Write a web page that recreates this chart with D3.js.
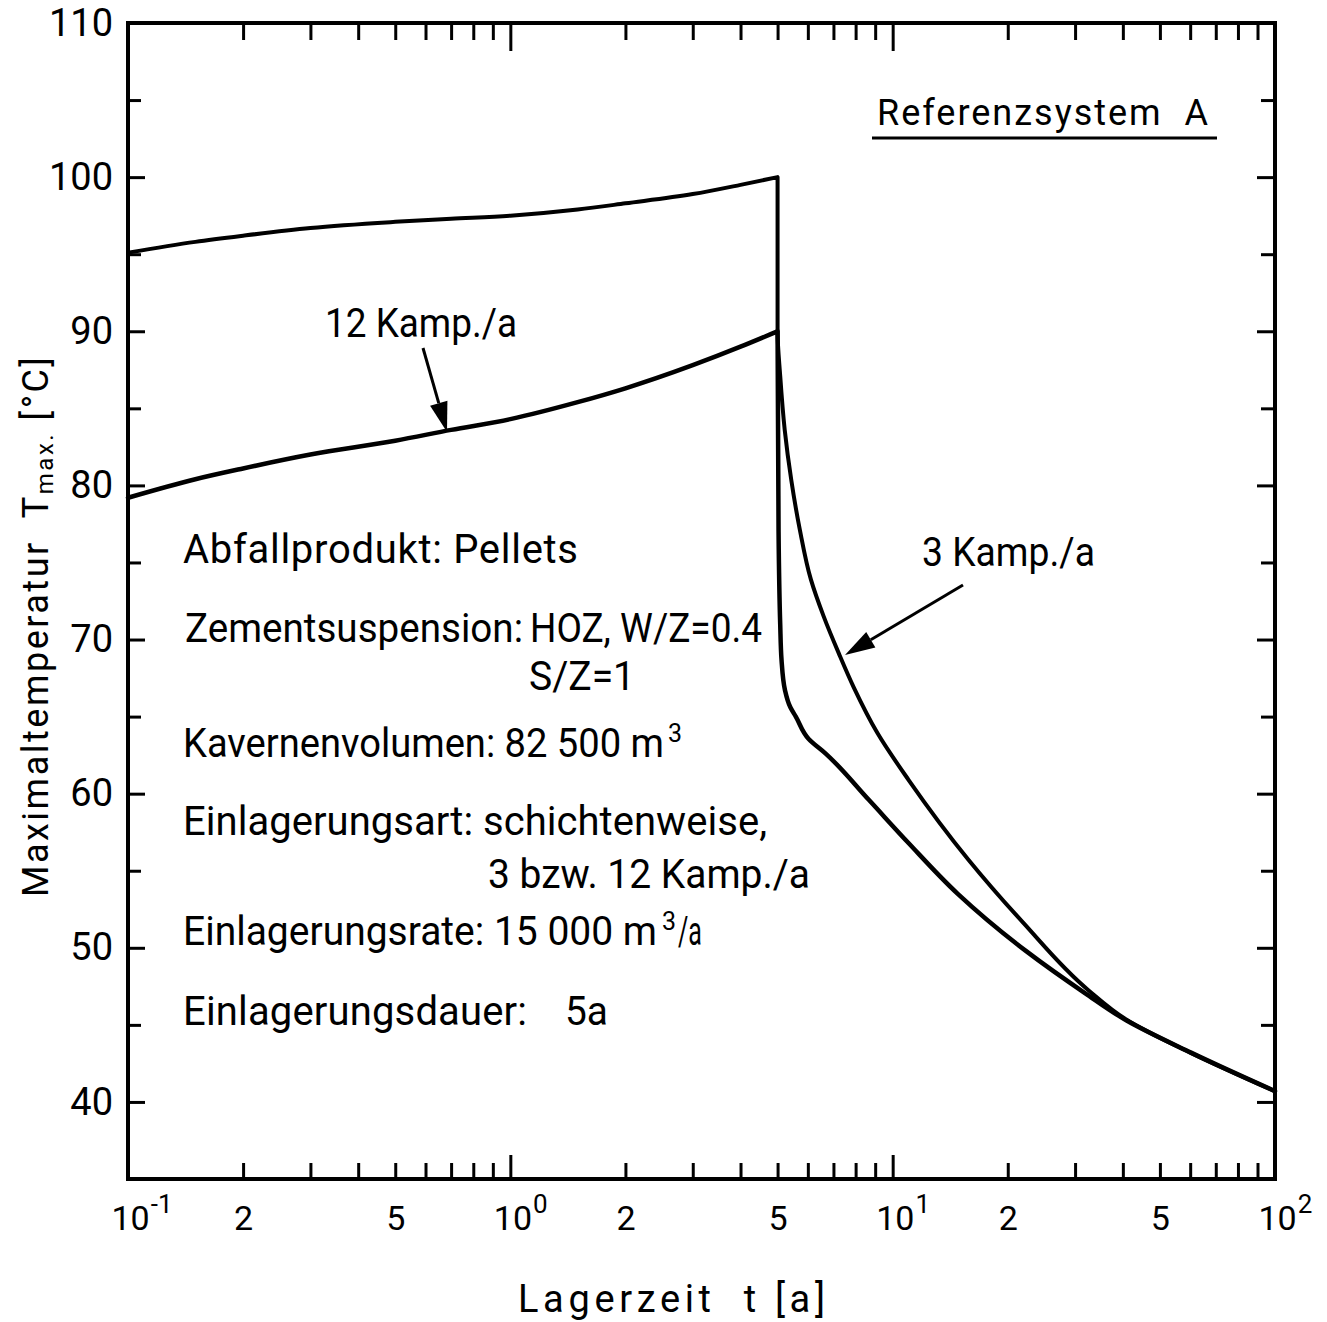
<!DOCTYPE html>
<html>
<head>
<meta charset="utf-8">
<script src="https://cdn.jsdelivr.net/npm/d3@7"></script>
<style>
    body { margin: 0; background: #fff; }
    text { font-family: Roboto, "Open Sans", sans-serif; fill: #000; white-space: pre; }
</style>
</head>
<body>
<svg id="chart"></svg>
<script>
/*--------------------------------------------------------------------------------
----- DATA
--------------------------------------------------------------------------------*/

// Curve for 3 campaigns per year: storage time [a] and max. temperature [°C]
const kamp3_time = [0.1, 0.15, 0.2, 0.3, 0.5, 0.7, 1, 1.5, 2, 3, 4, 5,
    5, 5.08, 5.22, 5.43, 5.72, 6.11, 6.6, 7.23, 7.91, 9.14, 11.0, 15.8, 22, 32.5, 40.8, 60, 100];
const kamp3_temp = [95.1, 95.8, 96.2, 96.7, 97.1, 97.3, 97.5, 97.9, 98.3, 98.9, 99.5, 100,
    90, 87.1, 83.6, 80.35, 77.1, 73.9, 71.5, 69.1, 66.9, 63.9, 60.9, 55.7, 51.6, 47.25, 45.35, 43.2, 40.7];

// Curve for 12 campaigns per year
const kamp12_time = [0.1, 0.15, 0.2, 0.3, 0.5, 0.7, 1, 1.5, 2, 3, 4, 5,
    5.03, 5.08, 5.12, 5.23, 5.4, 5.58, 6.03, 6.68, 8.66, 11, 14.8, 22.3, 31.9, 40.8, 60.3, 100];
const kamp12_temp = [79.2, 80.4, 81.1, 82.0, 82.9, 83.6, 84.3, 85.4, 86.3, 87.8, 89.0, 90.0,
    77, 71, 68.7, 66.7, 65.6, 65.0, 63.55, 62.6, 59.6, 56.8, 53.5, 49.8, 47.05, 45.3, 43.2, 40.7];

// Axis ticks
const y_major_ticks = [40, 50, 60, 70, 80, 90, 100, 110];
const y_minor_ticks = [45, 55, 65, 75, 85, 95, 105];
const x_decade_ticks = [0.1, 1, 10, 100];
const x_decade_exponents = ["-1", "0", "1", "2"];
const x_minor_ticks = [0.2, 0.3, 0.4, 0.5, 0.6, 0.7, 0.8, 0.9,
    2, 3, 4, 5, 6, 7, 8, 9, 20, 30, 40, 50, 60, 70, 80, 90];
const x_minor_labelled = [0.2, 0.5, 2, 5, 20, 50];

// Texts
const x_title = "Lagerzeit  t [a]";
const y_title = ["Maximaltemperatur  T", "max.", " [°C]"];
const system_label = "Referenzsystem  A";
const curve_labels = ["12 Kamp./a", "3 Kamp./a"];
const info_lines = [
    "Abfallprodukt: Pellets",
    "Zementsuspension:", "HOZ, W/Z=0.4",
    "S/Z=1",
    "Kavernenvolumen: 82 500 m", "3",
    "Einlagerungsart: schichtenweise,",
    "3 bzw. 12 Kamp./a",
    "Einlagerungsrate: 15 000 m", "3", "/a",
    "Einlagerungsdauer:", "5a"
];

/*--------------------------------------------------------------------------------
----- CHART
--------------------------------------------------------------------------------*/

const width = 1327, height = 1322;
const margin = { top: 23, right: 52, bottom: 143, left: 128 };

const svg = d3.select('#chart')
    .attr('width', width)
    .attr('height', height);

const x = d3.scaleLog()
    .domain([0.1, 100])
    .range([margin.left, width - margin.right]);

const y = d3.scaleLinear()
    .domain([35, 110])
    .range([height - margin.bottom, margin.top]);

const x0 = x.range()[0], x1 = x.range()[1];
const y0 = y.range()[0], y1 = y.range()[1];

// Helper to style an axis group: no domain path, thick black ticks
function style_axis(g, font_size) {
    g.select('.domain').remove();
    g.selectAll('.tick line').attr('stroke', '#000').attr('stroke-width', 3);
    g.selectAll('.tick text')
        .style('font-family', 'Roboto, sans-serif')
        .style('font-size', font_size + 'px')
        .attr('fill', '#000');
}

// Left axis: major ticks with labels, minor ticks without
svg.append('g')
    .attr('transform', 'translate(' + x0 + ',0)')
    .call(d3.axisLeft(y).tickValues(y_major_ticks).tickSize(-17).tickPadding(15))
    .call(g => style_axis(g, 38));
svg.append('g')
    .attr('transform', 'translate(' + x0 + ',0)')
    .call(d3.axisLeft(y).tickValues(y_minor_ticks).tickSize(-13).tickFormat(''))
    .call(g => style_axis(g, 38));

// Right axis: inward ticks only
svg.append('g')
    .attr('transform', 'translate(' + x1 + ',0)')
    .call(d3.axisRight(y).tickValues(y_major_ticks).tickSize(-18).tickFormat(''))
    .call(g => style_axis(g, 38));
svg.append('g')
    .attr('transform', 'translate(' + x1 + ',0)')
    .call(d3.axisRight(y).tickValues(y_minor_ticks).tickSize(-14).tickFormat(''))
    .call(g => style_axis(g, 38));

// Bottom axis: decade ticks (long) and minor ticks (short, some labelled)
const bottom_major = svg.append('g')
    .attr('transform', 'translate(0,' + y0 + ')')
    .call(d3.axisBottom(x).tickValues(x_decade_ticks).tickSize(-24).tickFormat(''))
    .call(g => style_axis(g, 34));

bottom_major.selectAll('.tick').each(function (d, i) {
    const label = d3.select(this).append('text')
        .attr('x', -17)
        .attr('y', 51)
        .attr('text-anchor', 'start')
        .style('font-size', '34px');
    label.append('tspan').text('10');
    label.append('tspan')
        .attr('dx', 1)
        .attr('dy', -17)
        .style('font-size', '26px')
        .text(x_decade_exponents[i]);
});

svg.append('g')
    .attr('transform', 'translate(0,' + y0 + ')')
    .call(d3.axisBottom(x).tickValues(x_minor_ticks).tickSize(-16).tickPadding(27)
        .tickFormat(d => x_minor_labelled.includes(d) ? String(Math.round(d / Math.pow(10, Math.floor(Math.log10(d) + 1e-9)))) : ''))
    .call(g => style_axis(g, 34));

// Top axis: inward ticks only
svg.append('g')
    .attr('transform', 'translate(0,' + y1 + ')')
    .call(d3.axisTop(x).tickValues(x_decade_ticks).tickSize(-28).tickFormat(''))
    .call(g => style_axis(g, 34));
svg.append('g')
    .attr('transform', 'translate(0,' + y1 + ')')
    .call(d3.axisTop(x).tickValues(x_minor_ticks).tickSize(-17).tickFormat(''))
    .call(g => style_axis(g, 34));

// Frame
svg.append('rect')
    .attr('x', x0)
    .attr('y', y1)
    .attr('width', x1 - x0)
    .attr('height', y0 - y1)
    .attr('fill', 'none')
    .attr('stroke', '#000')
    .attr('stroke-width', 4);

// Curves: the rise up to the end of emplacement is monotone in t, the decay
// afterwards is monotone in T, so each part gets its own monotone curve
const rise_line = d3.line()
    .x(d => x(d[0]))
    .y(d => y(d[1]))
    .curve(d3.curveMonotoneX);

const decay_line = d3.line()
    .x(d => x(d[0]))
    .y(d => y(d[1]))
    .curve(d3.curveMonotoneY);

function draw_curve(times, temps, stroke_width) {
    const points = times.map((t, i) => [t, temps[i]]);
    const peak = d3.maxIndex(temps);
    const path_d = rise_line(points.slice(0, peak + 1)) + decay_line(points.slice(peak));
    svg.append('path')
        .attr('d', path_d)
        .attr('fill', 'none')
        .attr('stroke', '#000')
        .attr('stroke-width', stroke_width)
        .attr('stroke-linejoin', 'round')
        .attr('stroke-linecap', 'round');
}

draw_curve(kamp3_time, kamp3_temp, 4);
draw_curve(kamp12_time, kamp12_temp, 4.5);

// Helper for a text line fitted to a given length
function fit_length(sel, len) {
    const natural = sel.node().getComputedTextLength();
    sel.attr('textLength', len)
        .attr('lengthAdjust', natural > len ? 'spacingAndGlyphs' : 'spacing');
}

function add_text(px, py, str, size, len) {
    const t = svg.append('text')
        .attr('x', px)
        .attr('y', py)
        .style('font-size', size + 'px')
        .text(str);
    if (len) fit_length(t, len);
    return t;
}

// Text line followed by a superscript (and an optional tail)
function add_text_sup(px, py, str, len, sup, sup_x, tail, tail_x, tail_len) {
    const t = svg.append('text')
        .attr('x', px)
        .attr('y', py)
        .style('font-size', '40px');
    const main = t.append('tspan').text(str);
    fit_length(main, len);
    t.append('tspan')
        .attr('x', sup_x)
        .attr('y', py - 15)
        .style('font-size', '25px')
        .text(sup);
    if (tail) {
        const tl = t.append('tspan')
            .attr('x', tail_x)
            .attr('y', py)
            .text(tail);
        fit_length(tl, tail_len);
    }
    return t;
}

// Arrow helper (line plus filled head)
function add_arrow(xa, ya, xb, yb) {
    const ang = Math.atan2(yb - ya, xb - xa);
    const head_len = 30, head_half = 9;
    const bx = xb - head_len * Math.cos(ang), by = yb - head_len * Math.sin(ang);
    svg.append('line')
        .attr('x1', xa).attr('y1', ya).attr('x2', bx).attr('y2', by)
        .attr('stroke', '#000').attr('stroke-width', 3);
    svg.append('polygon')
        .attr('points', [
            [xb, yb],
            [bx + head_half * Math.sin(ang), by - head_half * Math.cos(ang)],
            [bx - head_half * Math.sin(ang), by + head_half * Math.cos(ang)]
        ].map(p => p.join(',')).join(' '))
        .attr('fill', '#000');
}

// Curve labels and arrows
add_text(325, 337, curve_labels[0], 40, 192);
add_arrow(423, 348, 447, 432);
add_text(922, 566, curve_labels[1], 40, 173);
add_arrow(963, 585, 845, 655);

// System label with underline
add_text(877, 125, system_label, 36, 331);
svg.append('line')
    .attr('x1', 872).attr('x2', 1217)
    .attr('y1', 138).attr('y2', 138)
    .attr('stroke', '#000').attr('stroke-width', 3);

// Info block
add_text(183, 563, info_lines[0], 40, 395);
add_text(185, 642, info_lines[1], 40, 338);
add_text(530, 642, info_lines[2], 40, 232);
add_text(529, 690, info_lines[3], 40, 106);
add_text_sup(183, 757, info_lines[4], 481, info_lines[5], 668);
add_text(183, 835, info_lines[6], 40, 584);
add_text(488, 888, info_lines[7], 40, 322);
add_text_sup(183, 945, info_lines[8], 474, info_lines[9], 662, info_lines[10], 678, 24);
add_text(183, 1025, info_lines[11], 40, 344);
add_text(565, 1025, info_lines[12], 40, 43);

// Axis titles
add_text(518, 1312, x_title, 38, 307);

const y_title_text = svg.append('text')
    .attr('transform', 'translate(48,897) rotate(-90)')
    .style('font-size', '36px')
    .style('letter-spacing', '2.5px');
y_title_text.append('tspan').text(y_title[0]);
y_title_text.append('tspan').attr('dy', 5).style('font-size', '24px').text(y_title[1]);
y_title_text.append('tspan').attr('dy', -5).text(y_title[2]);
</script>
</body>
</html>
